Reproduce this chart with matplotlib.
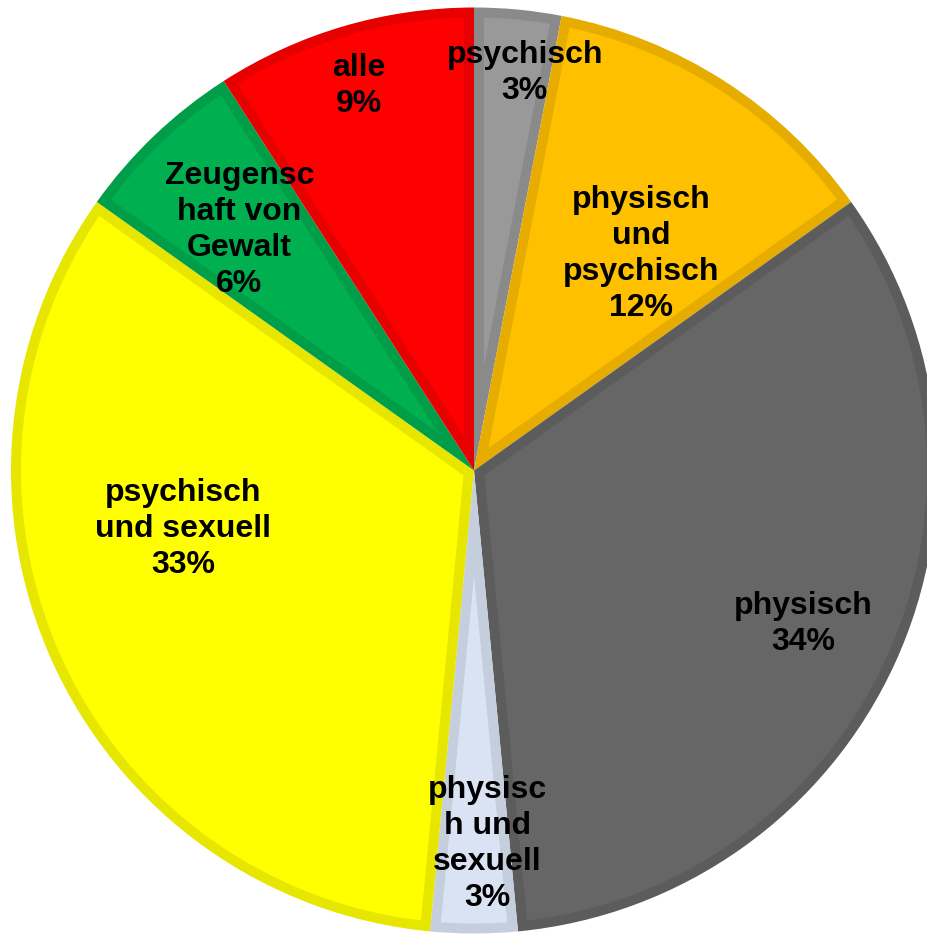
import numpy as np
import matplotlib

matplotlib.use("Agg")
import matplotlib.pyplot as plt
from matplotlib.patches import Polygon

# Daten (Anzahl Nennungen, zusammen 33)
labels = ["psychisch", "physisch\nund\npsychisch", "physisch", "physisc\nh und\nsexuell",
          "psychisch\nund sexuell", "Zeugensc\nhaft von\nGewalt", "alle"]
counts = [1, 4, 11, 1, 11, 2, 3]
pct_labels = ["3%", "12%", "34%", "3%", "33%", "6%", "9%"]
fill_colors = ["#999999", "#FFC000", "#666666", "#DAE3F3", "#FFFF00", "#00B050", "#FF0000"]
edge_colors = ["#8A8A8A", "#E6AD00", "#5C5C5C", "#C5CEDC", "#E6E600", "#009E48", "#E60000"]

# Lage der Beschriftungen (Anteil des Radius, Winkelversatz in Grad)
label_r = [0.866, 0.59, 0.785, 0.807, 0.64, 0.725, 0.866]
label_dang = [-1.8, -5, -0.4, 2, -13.2, 0.7, 0.3]

W, H = 927, 935
fig = plt.figure(figsize=(W / 100, H / 100), dpi=100)
ax = fig.add_axes([0, 0, 1, 1])

cx, cy, R = 474, H - 470.5, 463
BORDER = 10  # innerer Rand in Pixel

wedges, _ = ax.pie(counts, colors=edge_colors, startangle=90, counterclock=False,
                   center=(cx, cy), radius=R, frame=True,
                   wedgeprops=dict(linewidth=0))
ax.set_xlim(0, W)
ax.set_ylim(0, H)
ax.set_aspect("equal")
ax.axis("off")


def inner_shape(w, d):
    # Keil nach innen um d verkleinert (Excel-artiger Innenrand)
    t1, t2 = np.deg2rad(w.theta1), np.deg2rad(w.theta2)
    h = (t2 - t1) / 2
    r_in = w.r - d
    da = np.arcsin(d / r_in)
    ang = np.linspace(t1 + da, t2 - da, 200)
    pts = [(w.center[0] + r_in * np.cos(a), w.center[1] + r_in * np.sin(a)) for a in ang]
    apex_r = d / np.sin(h)
    mid = t1 + h
    pts.append((w.center[0] + apex_r * np.cos(mid), w.center[1] + apex_r * np.sin(mid)))
    return pts


for w, fc in zip(wedges, fill_colors):
    ax.add_patch(Polygon(inner_shape(w, BORDER), closed=True, facecolor=fc,
                         edgecolor="none", linewidth=0))

for w, lab, pct, rf, da in zip(wedges, labels, pct_labels, label_r, label_dang):
    mid = np.deg2rad((w.theta1 + w.theta2) / 2 + da)
    x = cx + rf * R * np.cos(mid)
    y = cy + rf * R * np.sin(mid)
    ax.text(x, y, f"{lab}\n{pct}", ha="center", va="center",
            fontsize=23, fontweight="bold", family="Liberation Sans",
            linespacing=1.26, color="black", zorder=5)

fig.savefig("out.png", dpi=100)
plt.close(fig)
